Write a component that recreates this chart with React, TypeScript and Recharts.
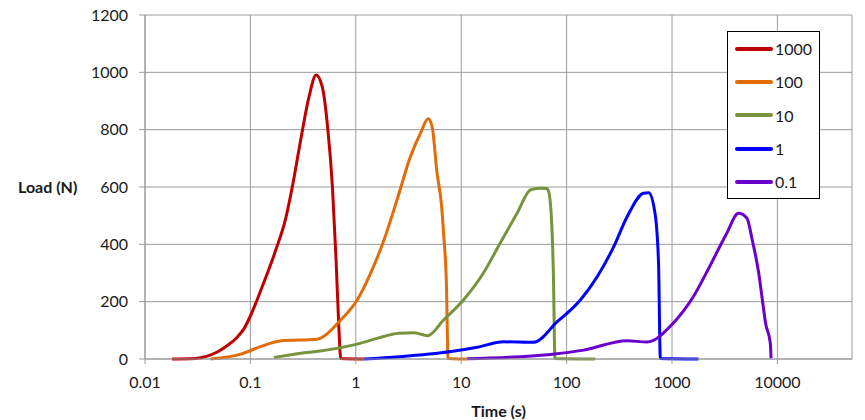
import { LineChart, Line, XAxis, YAxis, CartesianGrid, Legend } from "recharts"

// time (s) / load (N) pairs, one list per loading rate
const rate1000 = [
  { t: 0.018, load: 0 }, { t: 0.03, load: 2 }, { t: 0.039, load: 10 }, { t: 0.05, load: 27 },
  { t: 0.06, load: 46 }, { t: 0.075, load: 76 }, { t: 0.087, load: 106 }, { t: 0.1, load: 150 },
  { t: 0.125, load: 238 }, { t: 0.174, load: 380 }, { t: 0.216, load: 490 },
  { t: 0.25, load: 601 }, { t: 0.3, load: 764 }, { t: 0.36, load: 915 }, { t: 0.42, load: 991 },
  { t: 0.48, load: 950 }, { t: 0.54, load: 810 }, { t: 0.6, load: 601 }, { t: 0.65, load: 345 },
  { t: 0.69, load: 113 }, { t: 0.72, load: 2 }, { t: 1.18, load: 0 },
]

const rate100 = [
  { t: 0.042, load: 0 }, { t: 0.081, load: 17 }, { t: 0.125, load: 43 }, { t: 0.19, load: 63 },
  { t: 0.43, load: 69 }, { t: 0.46, load: 72 }, { t: 0.72, load: 136 }, { t: 1.03, load: 206 },
  { t: 1.38, load: 299 }, { t: 1.85, load: 415 }, { t: 2.46, load: 555 }, { t: 3.3, load: 706 },
  { t: 4.1, load: 787 }, { t: 4.86, load: 838 }, { t: 5.3, load: 810 }, { t: 5.9, load: 648 },
  { t: 6.5, load: 537 }, { t: 6.8, load: 438 }, { t: 7.25, load: 252 }, { t: 7.5, load: 2 },
  { t: 11.4, load: 0 },
]

const rate10 = [
  { t: 0.167, load: 5 }, { t: 0.3, load: 20 }, { t: 0.46, load: 28 }, { t: 1.03, load: 52 },
  { t: 1.59, load: 72 }, { t: 2.57, load: 90 }, { t: 3.56, load: 92 }, { t: 4.78, load: 81 },
  { t: 6.8, load: 136 }, { t: 10.5, load: 206 }, { t: 16.2, load: 299 }, { t: 23.4, load: 404 },
  { t: 33.8, load: 508 }, { t: 45.4, load: 590 }, { t: 55, load: 596 }, { t: 65, load: 595 },
  { t: 67.6, load: 584 }, { t: 72.5, load: 461 }, { t: 75, load: 287 }, { t: 77.5, load: 2 },
  { t: 186, load: 0 },
]

const rate1 = [
  { t: 1.18, load: 0 }, { t: 2.6, load: 8 }, { t: 8, load: 26 }, { t: 14.2, load: 41 },
  { t: 25.2, load: 60 }, { t: 48.6, load: 58 }, { t: 81.5, load: 130 }, { t: 135, load: 206 },
  { t: 195, load: 287 }, { t: 280, load: 392 }, { t: 375, load: 496 }, { t: 535, load: 578 },
  { t: 600, load: 580 }, { t: 690, load: 508 }, { t: 745, load: 334 }, { t: 775, load: 2 },
  { t: 1780, load: 0 },
]

const rate01 = [
  { t: 11.4, load: 1 }, { t: 70, load: 16 }, { t: 145, load: 31 }, { t: 375, load: 64 },
  { t: 580, load: 59 }, { t: 1020, load: 124 }, { t: 1590, load: 217 }, { t: 2270, load: 322 },
  { t: 3300, load: 438 }, { t: 4270, load: 508 }, { t: 5140, load: 491 }, { t: 5770, load: 415 },
  { t: 6650, load: 299 }, { t: 7200, load: 206 }, { t: 7730, load: 124 }, { t: 8560, load: 55 },
  { t: 8700, load: 2 },
]

const xTicks = [0.01, 0.1, 1, 10, 100, 1000, 10000]
const yTicks = [0, 200, 400, 600, 800, 1000, 1200]

const series = [
  { name: "1000", data: rate1000, color: "#C00000" },
  { name: "100", data: rate100, color: "#E36C09" },
  { name: "10", data: rate10, color: "#77933C" },
  { name: "1", data: rate1, color: "#0000FF" },
  { name: "0.1", data: rate01, color: "#6A00CC" },
]

const font = "Lato, 'Open Sans', sans-serif"
const grey = "#9a9a9a"

function LegendBox() {
  return (
    <div
      style={{
        border: "1px solid #000",
        background: "#fff",
        width: 93,
        padding: "0 0 0 7px",
        boxSizing: "border-box",
        fontFamily: font,
        fontSize: 16,
        color: "#1a1a1a",
      }}
    >
      {series.map((s) => (
        <div key={s.name} style={{ display: "flex", alignItems: "center", height: 33.3 }}>
          <div style={{ width: 38, height: 4, borderRadius: 2, background: s.color, marginRight: 2 }} />
          <span>{s.name}</span>
        </div>
      ))}
    </div>
  )
}

export default function App() {
  return (
    <div style={{ position: "absolute", left: 0, top: 0, background: "#fff" }}>
      <LineChart width={865} height={420} margin={{ top: 15, right: 13, bottom: 0, left: 0 }}>
        <CartesianGrid stroke={grey} strokeWidth={1} />
        <XAxis
          dataKey="t"
          type="number"
          scale="log"
          domain={[0.01, 51000]}
          allowDataOverflow
          ticks={xTicks}
          tickFormatter={(v) => String(v)}
          height={61}
          stroke={grey}
          tickSize={5}
          tickMargin={13}
          tick={{ fill: "#1a1a1a", fontSize: 16, fontFamily: font }}
          label={{
            value: "Time (s)",
            position: "insideBottom",
            offset: 3,
            style: { fill: "#1a1a1a", fontSize: 16, fontWeight: 700, fontFamily: font },
          }}
        />
        <YAxis
          type="number"
          domain={[0, 1200]}
          ticks={yTicks}
          width={145}
          stroke={grey}
          tickSize={6}
          tickMargin={11}
          tick={{ fill: "#1a1a1a", fontSize: 16, fontFamily: font }}
          label={{
            value: "Load (N)",
            position: "insideLeft",
            offset: 18,
            style: { fill: "#1a1a1a", fontSize: 16, fontWeight: 700, fontFamily: font, textAnchor: "start" },
          }}
        />
        {/* vertical + center + middle keeps the legend from reserving plot space */}
        <Legend
          layout="vertical"
          verticalAlign="middle"
          align="center"
          content={() => <LegendBox />}
          wrapperStyle={{ top: 31, left: 727, width: 93 }}
        />
        {series.map((s) => (
          <Line
            key={s.name}
            data={s.data}
            dataKey="load"
            name={s.name}
            type="monotone"
            stroke={s.color}
            strokeWidth={3}
            dot={false}
            isAnimationActive={false}
          />
        ))}
      </LineChart>
    </div>
  )
}
